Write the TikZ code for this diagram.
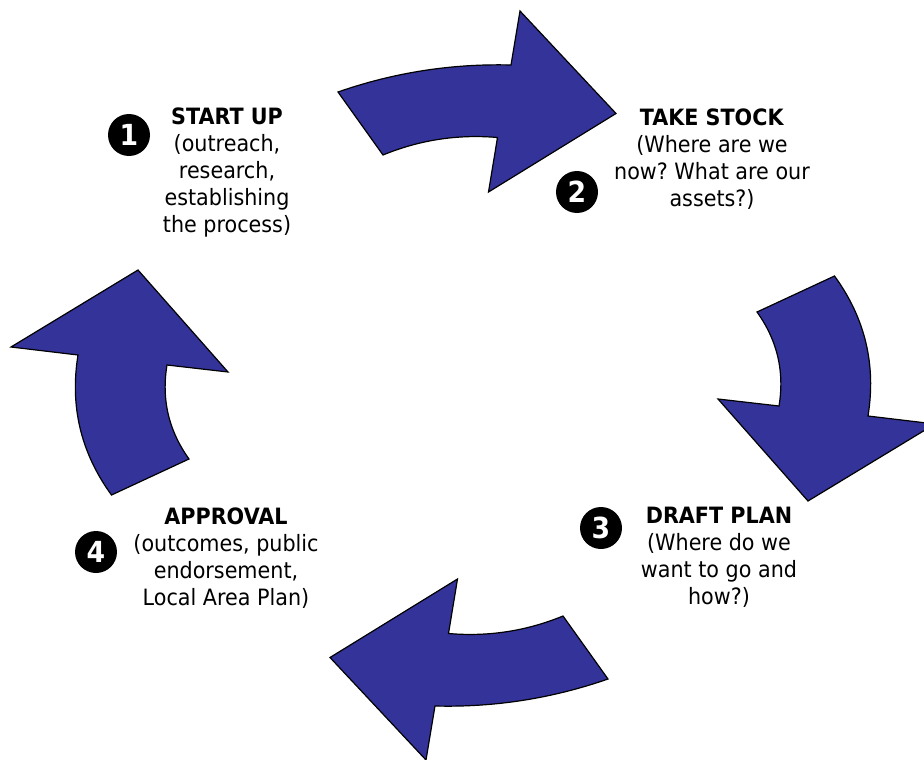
\documentclass[tikz,border=0pt]{standalone}
\usepackage{fontspec}
\setmainfont{DejaVu Sans}[FakeStretch=0.92]
\usepackage{xcolor}
\definecolor{CycleBlue}{RGB}{51,51,153}
\frenchspacing

\tikzset{
	cyclearrow/.style={fill=CycleBlue, draw=black, line width=1.2pt, line join=miter},
	stage/.style={align=center, inner sep=0pt, anchor=base, font=\fontsize{22.5}{27}\selectfont},
	badge/.style={circle, fill=black, minimum size=42pt, inner sep=0pt, text=white, font=\bfseries\fontsize{29}{29}\selectfont}
}

\begin{document}
\begin{tikzpicture}[x=1pt, y=-1pt]
	\clip (0,0) rectangle (924,760);
	% the four curved arrows of the cycle
	\draw[cyclearrow] (338,92) .. controls (394,72.5) and (451.7,63.5) .. (511,65) -- (520,11) -- (616,113.5) -- (488.5,192) -- (497.5,137.5) .. controls (457.9,134.1) and (419.7,139.9) .. (383,155) -- cycle;
	\draw[cyclearrow] (834.5,276) -- (757,312) .. controls (777.3,340.3) and (784.7,371.6) .. (779,406) -- (718,399) -- (808,501) -- (935,424) -- (868,416) .. controls (876.3,364.7) and (865.1,318) .. (834.5,276) -- cycle;
	\draw[cyclearrow] (608,679) .. controls (552,698.5) and (494.3,707.5) .. (435,706) -- (426,760) -- (330,657.5) -- (457.5,579) -- (448.5,633.5) .. controls (488.1,636.9) and (526.3,631.1) .. (563,616) -- cycle;
	\draw[cyclearrow] (111.5,495) -- (189,459) .. controls (168.7,430.7) and (161.3,399.4) .. (167,365) -- (228,372) -- (138,270) -- (11,347) -- (78,355) .. controls (69.7,406.3) and (80.9,453) .. (111.5,495) -- cycle;
	% stages (anchored on the baseline of their last line)
	\node[stage] (startup) at (227,232.5) {\textbf{START UP}\\(outreach,\\research,\\establishing\\the process)};
	\node[stage] (takestock) at (712,206) {\textbf{TAKE STOCK}\\(Where are we\\now? What are our\\assets?)};
	\node[stage] (draftplan) at (719,604) {\textbf{DRAFT PLAN}\\(Where do we\\want to go and\\how?)};
	\node[stage] (approval) at (226,605) {\textbf{APPROVAL}\\(outcomes, public\\endorsement,\\Local Area Plan)};
	% numbered badges
	\node[badge] (n1) at (129,135) {1};
	\node[badge] (n2) at (577,192) {2};
	\node[badge] (n3) at (601,528) {3};
	\node[badge] (n4) at (96,552) {4};
\end{tikzpicture}
\end{document}
